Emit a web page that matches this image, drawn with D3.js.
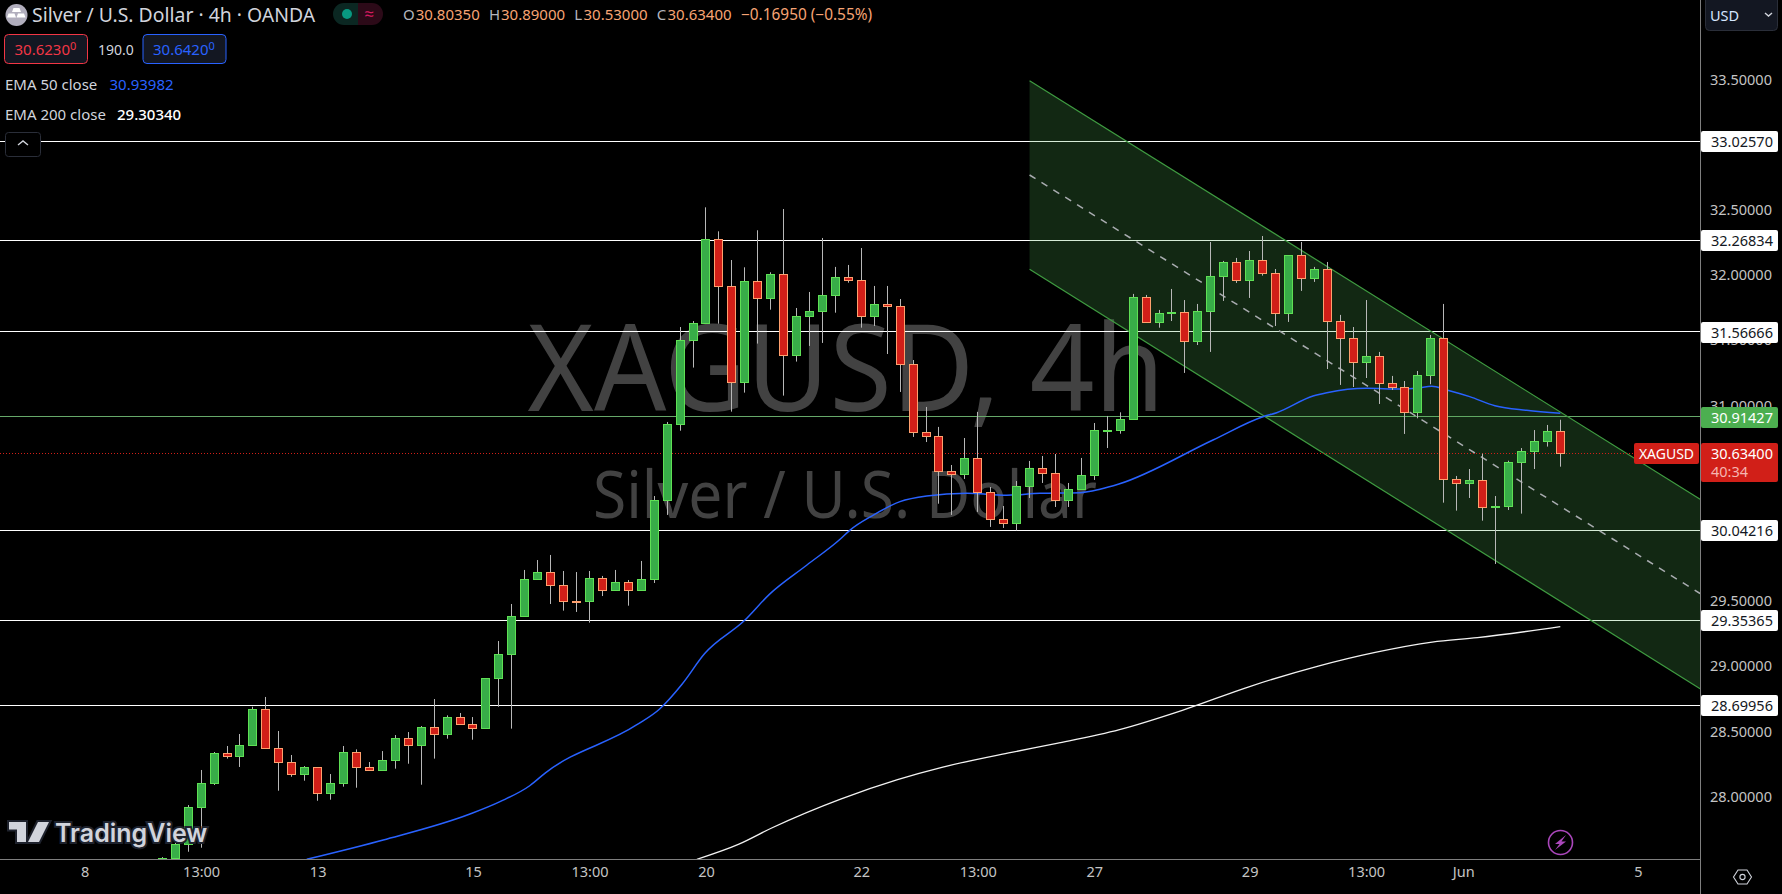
<!DOCTYPE html>
<html>
<head>
<meta charset="utf-8">
<title>XAGUSD 4h</title>
<script src="https://d3js.org/d3.v7.min.js"></script>
<style>
  html, body { margin: 0; padding: 0; background: #000; overflow: hidden; }
  text { font-family: "Noto Sans", "Open Sans", sans-serif; }
</style>
</head>
<body>
<div id="chart"></div>
<script>
// candles, one entry per 4h bar
const open = [27.35,27.525,27.634,27.915,28.099,28.331,28.306,28.39,28.669,28.37,28.262,28.168,28.224,28.022,28.099,28.339,28.224,28.198,28.275,28.446,28.39,28.531,28.475,28.608,28.554,28.521,28.904,29.088,29.38,29.664,29.72,29.62,29.497,29.495,29.674,29.579,29.643,29.579,29.664,30.269,30.852,31.497,31.627,32.274,31.913,31.175,31.952,31.819,32.005,31.382,31.681,31.719,31.842,31.982,31.959,31.681,31.775,31.76,31.315,30.794,30.763,30.494,30.469,30.594,30.333,30.126,30.093,30.377,30.517,30.479,30.269,30.354,30.461,30.8,30.811,30.891,31.829,31.635,31.698,31.714,31.489,31.719,31.988,32.097,31.957,32.113,32.013,31.704,32.151,31.972,32.044,31.645,31.515,31.328,31.376,31.169,31.139,30.944,31.228,31.514,30.433,30.4,30.425,30.214,30.223,30.561,30.645,30.722,30.8035];
const high = [27.536,27.645,27.935,28.204,28.342,28.388,28.48,28.689,28.764,28.503,28.319,28.234,28.224,28.173,28.388,28.362,28.265,28.349,28.472,28.495,28.541,28.748,28.623,28.641,28.61,28.907,29.193,29.477,29.738,29.814,29.853,29.73,29.722,29.73,29.692,29.738,29.661,29.807,30.305,30.873,31.601,31.647,32.519,32.335,32.115,32.059,32.343,32.021,32.506,31.747,31.87,32.284,32.062,32.077,32.207,31.916,31.916,31.816,31.348,30.988,30.835,30.543,30.75,30.95,30.374,30.229,30.42,30.574,30.612,30.627,30.405,30.597,30.865,30.919,30.947,31.855,31.847,31.732,31.893,31.808,31.778,32.253,32.108,32.131,32.184,32.299,32.046,32.151,32.253,32.062,32.1,31.694,31.601,31.808,31.41,31.226,31.187,31.264,31.54,31.778,30.459,30.512,30.63,30.305,30.576,30.673,30.811,30.85,30.89];
const low = [27.3,27.5,27.577,27.608,28.089,28.291,28.227,28.39,28.367,28.045,28.152,28.122,27.968,27.976,28.076,28.068,28.198,28.198,28.214,28.252,28.091,28.291,28.444,28.551,28.436,28.521,28.689,28.521,29.38,29.664,29.477,29.426,29.416,29.334,29.538,29.579,29.464,29.579,29.638,30.16,30.806,31.29,31.627,31.627,30.952,31.098,31.474,31.734,31.075,31.336,31.456,31.479,31.711,31.941,31.596,31.609,31.394,31.103,30.758,30.719,30.246,30.16,30.436,30.183,30.068,30.06,30.042,30.29,30.405,30.221,30.221,30.354,30.428,30.673,30.783,30.891,31.635,31.596,31.647,31.249,31.463,31.41,31.801,31.939,31.824,31.995,31.609,31.64,31.878,31.947,31.279,31.157,31.141,31.21,31.011,31.118,30.781,30.901,31.162,30.254,30.193,30.29,30.116,29.784,30.198,30.17,30.512,30.684,30.53];
const close = [27.526,27.634,27.917,28.101,28.331,28.306,28.393,28.669,28.367,28.26,28.168,28.224,28.022,28.101,28.339,28.222,28.198,28.278,28.446,28.39,28.531,28.475,28.608,28.551,28.521,28.907,29.091,29.382,29.666,29.72,29.618,29.495,29.49,29.674,29.579,29.643,29.579,29.666,30.272,30.855,31.499,31.63,32.274,31.911,31.175,31.952,31.819,32.005,31.382,31.683,31.722,31.844,31.982,31.957,31.681,31.775,31.757,31.313,30.794,30.76,30.492,30.469,30.594,30.331,30.126,30.093,30.379,30.517,30.477,30.269,30.356,30.464,30.809,30.811,30.893,31.829,31.635,31.706,31.709,31.489,31.722,31.99,32.097,31.957,32.113,32.011,31.704,32.151,31.972,32.044,31.642,31.512,31.328,31.376,31.167,31.136,30.944,31.231,31.514,30.43,30.4,30.425,30.216,30.223,30.563,30.648,30.725,30.801,30.634];

const ema50Bars = [11.16,17.07,23.77,26.09,28.41,29.6,36.63,38.4,40.15,41.9,44.97,46.9,49.8,52.36,53.13,54.93,56.99,59.05,62.14,65.23,67.81,70.9,72.44,73.9,81.17,85.03,86.09,88.9,89.96,93.05,95.62,96.91,98.07,99.23,101,102.95,105.4,108];
const ema50Values = [27.519,27.667,27.866,27.961,28.085,28.182,28.549,28.67,28.862,29.097,29.35,29.551,29.776,29.973,30.044,30.159,30.262,30.305,30.326,30.311,30.326,30.331,30.357,30.397,30.735,30.913,30.944,31.072,31.097,31.131,31.126,31.131,31.147,31.118,31.067,30.998,30.963,30.94];
const ema200Bars = [41.3,44.5,47.16,52.4,56.8,60.3,65.6,69.1,73.95,78.8,84,89.3,93.7,98.1,101.6,108];
const ema200Values = [27.519,27.633,27.763,27.981,28.13,28.226,28.339,28.408,28.514,28.662,28.844,29.001,29.106,29.185,29.219,29.303];

// horizontal levels
const levels = [33.0257,32.26834,31.56666,30.04216,29.35365,28.69956];
const emaLevel = 30.91427;
const lastPrice = 30.634;

// channel, from bar 67 to the right edge of the plot
const channelBars = [67,118.8];
const channelUpper = [33.49,30.28];
const channelMiddle = [32.767,29.557];
const channelLower = [32.044,28.827];

// axes
const priceTicks = [28,28.5,29,29.5,30,30.5,31,31.5,32,32.5,33,33.5];
const timeTickBars = [-6,3,12,24,33,42,54,63,72,84,93,100.5,114];
const timeTickLabels = ["8","13:00","13","15","13:00","20","22","13:00","27","29","13:00","Jun","5"];

const width = 1782;
const height = 894;
const plotW = 1700;
const plotH = 859;

const svg = d3.select("#chart").append("svg")
  .attr("width", width)
  .attr("height", height)
  .style("display", "block")
  .style("background", "#000");

const x = d3.scaleLinear().domain([0, 108]).range([162.3, 1560.3]);
const y = d3.scaleLinear().domain([34.109, 27.519]).range([0, 859.3]);
const px = (v) => Math.floor(v) + 0.5; // keeps 1px lines sharp

svg.append("clipPath").attr("id", "plot")
  .append("rect").attr("width", plotW).attr("height", plotH);

const plot = svg.append("g").attr("clip-path", "url(#plot)");

// watermark
plot.append("text")
  .attr("x", 846).attr("y", 411)
  .attr("text-anchor", "middle")
  .attr("textLength", 637)
  .attr("lengthAdjust", "spacingAndGlyphs")
  .attr("fill", "#424242")
  .style("font-size", "120px")
  .text("XAGUSD, 4h");
plot.append("text")
  .attr("x", 845).attr("y", 518)
  .attr("text-anchor", "middle")
  .attr("textLength", 504)
  .attr("lengthAdjust", "spacingAndGlyphs")
  .attr("fill", "#424242")
  .style("font-size", "65px")
  .text("Silver / U.S. Dollar");

// levels
plot.selectAll(".level")
  .data(levels)
  .enter().append("line")
  .attr("class", "level")
  .attr("x1", 0).attr("x2", plotW)
  .attr("y1", (d) => px(y(d))).attr("y2", (d) => px(y(d)))
  .attr("stroke", "#fff")
  .attr("stroke-width", 1.2);
plot.append("line")
  .attr("x1", 0).attr("x2", plotW)
  .attr("y1", px(y(emaLevel))).attr("y2", px(y(emaLevel)))
  .attr("stroke", "#66a869");

// channel
const channelArea = d3.area()
  .x((d, i) => x(channelBars[i]))
  .y0((d, i) => y(channelLower[i]))
  .y1((d) => y(d));
plot.append("path")
  .attr("d", channelArea(channelUpper))
  .attr("fill", "rgba(76,175,80,0.23)");

const channelLine = d3.line().x((d, i) => x(channelBars[i])).y((d) => y(d));
[channelUpper, channelLower].forEach((s) => {
  plot.append("path")
    .attr("d", channelLine(s))
    .attr("fill", "none")
    .attr("stroke", "#3f9c41")
    .attr("stroke-width", 1.2);
});
plot.append("path")
  .attr("d", channelLine(channelMiddle))
  .attr("fill", "none")
  .attr("stroke", "#a9acb0")
  .attr("stroke-width", 1.5)
  .attr("stroke-dasharray", "7 7");

// last price
plot.append("line")
  .attr("x1", 0).attr("x2", plotW)
  .attr("y1", px(y(lastPrice))).attr("y2", px(y(lastPrice)))
  .attr("stroke", "#d11f18")
  .attr("stroke-dasharray", "1 2");

// averages
const emaLine = (bars) => d3.line().curve(d3.curveMonotoneX).x((d, i) => x(bars[i])).y((d) => y(d));
plot.append("path")
  .attr("d", emaLine(ema200Bars)(ema200Values))
  .attr("fill", "none")
  .attr("stroke", "#f2f2f2")
  .attr("stroke-width", 1.3);
plot.append("path")
  .attr("d", emaLine(ema50Bars)(ema50Values))
  .attr("fill", "none")
  .attr("stroke", "#2962ff")
  .attr("stroke-width", 1.5);

// candles
const candles = plot.selectAll(".candle")
  .data(d3.range(open.length))
  .enter().append("g")
  .attr("class", "candle");

candles.append("line")
  .attr("x1", (i) => px(x(i))).attr("x2", (i) => px(x(i)))
  .attr("y1", (i) => y(high[i])).attr("y2", (i) => y(low[i]))
  .attr("stroke", "#b8b8b8");

candles.append("rect")
  .attr("x", (i) => px(x(i)) - 4)
  .attr("width", 8)
  .attr("y", (i) => px(y(Math.max(open[i], close[i]))))
  .attr("height", (i) => Math.max(1, Math.round(Math.abs(y(open[i]) - y(close[i])))))
  .attr("fill", (i) => (close[i] >= open[i] ? "#38ad48" : "#d11f18"))
  .attr("stroke", (i) => (close[i] >= open[i] ? "#5fe055" : "#ffa06e"));

// axes
const priceAxis = d3.axisRight(y)
  .tickValues(priceTicks)
  .tickSize(0)
  .tickPadding(0)
  .tickFormat(d3.format(".5f"));
svg.append("g")
  .attr("transform", "translate(1710,0)")
  .call(priceAxis)
  .call((g) => g.select(".domain").remove())
  .selectAll("text")
  .attr("fill", "#c4c4c4")
  .style("font-family", '"Noto Sans"')
  .style("font-size", "14.5px");

const timeScale = d3.scaleLinear().domain(x.domain()).range(x.range());
const timeAxis = d3.axisBottom(timeScale)
  .tickValues(timeTickBars)
  .tickSize(0)
  .tickPadding(0)
  .tickFormat((d, i) => timeTickLabels[i]);
svg.append("g")
  .attr("transform", "translate(0,867)")
  .call(timeAxis)
  .call((g) => g.select(".domain").remove())
  .selectAll("text")
  .attr("fill", "#c4c4c4")
  .style("font-family", '"Noto Sans"')
  .style("font-size", "14.5px");

svg.append("line")
  .attr("x1", 1700.5).attr("x2", 1700.5)
  .attr("y1", 0).attr("y2", height)
  .attr("stroke", "#7f7f7f");
svg.append("line")
  .attr("x1", 0).attr("x2", 1700)
  .attr("y1", 859.5).attr("y2", 859.5)
  .attr("stroke", "#7f7f7f");

// price tags on the axis
const tag = svg.append("g");
tag.selectAll(".lvl")
  .data(levels)
  .enter().append("rect")
  .attr("x", 1701).attr("width", 77)
  .attr("y", (d) => Math.round(y(d)) - 10).attr("height", 21)
  .attr("rx", 2)
  .attr("fill", "#fff");
tag.selectAll(".lvltxt")
  .data(levels)
  .enter().append("text")
  .attr("x", 1711)
  .attr("y", (d) => Math.round(y(d)) + 5.5)
  .attr("fill", "#131722")
  .style("font-size", "14.5px")
  .text((d) => d3.format(".5f")(d));

tag.append("rect")
  .attr("x", 1701).attr("width", 77)
  .attr("y", Math.round(y(emaLevel)) - 10).attr("height", 21)
  .attr("rx", 2)
  .attr("fill", "#4caf50");
tag.append("text")
  .attr("x", 1711).attr("y", Math.round(y(emaLevel)) + 5.5)
  .attr("fill", "#fff")
  .style("font-size", "14.5px")
  .text(d3.format(".5f")(emaLevel));

tag.append("rect")
  .attr("x", 1701).attr("y", 443).attr("width", 77).attr("height", 39)
  .attr("rx", 2)
  .attr("fill", "#d11f18");
tag.append("text")
  .attr("x", 1711).attr("y", y(lastPrice) + 5.5)
  .attr("fill", "#fff")
  .style("font-size", "14.5px")
  .text(d3.format(".5f")(lastPrice));
tag.append("text")
  .attr("x", 1711).attr("y", 477)
  .attr("fill", "#f5b5b0")
  .style("font-size", "14.5px")
  .text("40:34");

tag.append("rect")
  .attr("x", 1634).attr("y", 443).attr("width", 65).attr("height", 21)
  .attr("rx", 2)
  .attr("fill", "#d11f18");
tag.append("text")
  .attr("x", 1666.5).attr("y", y(lastPrice) + 5.5)
  .attr("text-anchor", "middle")
  .attr("fill", "#fff")
  .style("font-size", "14px")
  .text("XAGUSD");

// header
const head = svg.append("g");
head.append("circle")
  .attr("cx", 16.5).attr("cy", 15).attr("r", 11)
  .attr("fill", "#b1aebd");
head.append("path")
  .attr("d", "M13.5 8h6l1.5 4h-9zM8.5 13.5h6l1.5 4H7zM18 13.5h6l1.5 4h-9z")
  .attr("fill", "#fff");
head.append("text")
  .attr("x", 32).attr("y", 21.5)
  .attr("fill", "#d1d4dc")
  .style("font-size", "19.4px")
  .text("Silver / U.S. Dollar · 4h · OANDA");

head.append("path")
  .attr("d", "M358 3h-14a11 11 0 0 0 0 22h14z")
  .attr("fill", "#0b2722");
head.append("path")
  .attr("d", "M358 3h14a11 11 0 0 1 0 22h-14z")
  .attr("fill", "#2c0a18");
head.append("circle")
  .attr("cx", 347).attr("cy", 14).attr("r", 5)
  .attr("fill", "#089981");
head.append("text")
  .attr("x", 369).attr("y", 20).attr("text-anchor", "middle")
  .attr("fill", "#d81b60")
  .style("font-size", "17px")
  .text("≈");

const ohlcLabels = [["O", 403, 415.7, "30.80350"], ["H", 489, 501, "30.89000"], ["L", 574.3, 583.5, "30.53000"], ["C", 656.7, 667.5, "30.63400"]];
ohlcLabels.forEach((d) => {
  head.append("text").attr("x", d[1]).attr("y", 20).attr("fill", "#b2b5be").style("font-size", "15px").text(d[0]);
  head.append("text").attr("x", d[2]).attr("y", 20).attr("fill", "#f7a474").style("font-size", "15px").text(d[3]);
});
head.append("text").attr("x", 741).attr("y", 20).attr("fill", "#f7a474").style("font-size", "15.4px").text("−0.16950 (−0.55%)");

[[4, "#f23645", "30.6230"], [142.5, "#2962ff", "30.6420"]].forEach((d) => {
  head.append("rect")
    .attr("x", d[0] + 0.5).attr("y", 34.5).attr("width", 83).attr("height", 29).attr("rx", 4)
    .attr("fill", "#131722").attr("stroke", d[1]);
  head.append("text").attr("x", d[0] + 10.5).attr("y", 54.5).attr("fill", d[1]).style("font-size", "15px").text(d[2]);
  head.append("text").attr("x", d[0] + 66).attr("y", 50).attr("fill", d[1]).style("font-size", "11px").text("0");
});
head.append("text").attr("x", 98).attr("y", 54.5).attr("fill", "#d1d4dc").style("font-size", "14px").text("190.0");

head.append("text").attr("x", 5).attr("y", 90).attr("fill", "#d1d4dc").style("font-size", "15px").text("EMA 50 close");
head.append("text").attr("x", 109.5).attr("y", 90).attr("fill", "#2962ff").style("font-size", "15px").text("30.93982");
head.append("text").attr("x", 5).attr("y", 120).attr("fill", "#d1d4dc").style("font-size", "15px").text("EMA 200 close");
head.append("text").attr("x", 117).attr("y", 120).attr("fill", "#fff").style("font-size", "15px").style("font-weight", 500).text("29.30340");

head.append("rect")
  .attr("x", 5.5).attr("y", 132.5).attr("width", 35).attr("height", 24).attr("rx", 3)
  .attr("fill", "#000").attr("stroke", "#2a2e39");
head.append("path")
  .attr("d", "M18 145l5-4 5 4")
  .attr("fill", "none").attr("stroke", "#d1d4dc").attr("stroke-width", 1.4);

// currency box
head.append("rect")
  .attr("x", 1705.5).attr("y", -4).attr("width", 72).attr("height", 34.5).attr("rx", 4)
  .attr("fill", "#131722").attr("stroke", "#2a2e39");
head.append("text").attr("x", 1710).attr("y", 20.5).attr("fill", "#d6e6ff").style("font-size", "14.5px").text("USD");
head.append("path")
  .attr("d", "M1765 13l3.5 3 3.5-3")
  .attr("fill", "none").attr("stroke", "#d1d4dc").attr("stroke-width", 1.4);

// logo
const logo = svg.append("g");
const logoPath = "M9 32h17v20h-9V39.5H9zM39 36a4.5 4.5 0 1 1-.1 0zM38 32h11L39 52H28z";
logo.append("path").attr("d", logoPath).attr("transform", "translate(0,790)")
  .attr("fill", "#d1d4dc").attr("stroke", "#1e222d").attr("stroke-width", 4).style("paint-order", "stroke");
logo.append("text")
  .attr("x", 55).attr("y", 842)
  .attr("fill", "#d1d4dc")
  .attr("stroke", "#1e222d").attr("stroke-width", 4)
  .style("paint-order", "stroke")
  .style("font-family", "Inter")
  .style("font-size", "25px")
  .style("font-weight", 600)
  .text("TradingView");

// lightning button
svg.append("circle")
  .attr("cx", 1560.5).attr("cy", 842.5).attr("r", 12)
  .attr("fill", "none").attr("stroke", "#ab47bc").attr("stroke-width", 1.6);
svg.append("path")
  .attr("d", "M1566 835l-11 9h4.5l-4.5 6 11-8.5h-4.5z")
  .attr("fill", "#ab47bc");

// settings hexagon
const hexagon = d3.range(6).map((k) => {
  const a = Math.PI / 3 * k;
  return [1742.5 + 9 * Math.cos(a), 877 + 8 * Math.sin(a)];
});
svg.append("path")
  .attr("d", d3.line().curve(d3.curveLinearClosed)(hexagon))
  .attr("fill", "none").attr("stroke", "#d1d4dc").attr("stroke-width", 1.1);
svg.append("circle")
  .attr("cx", 1742.5).attr("cy", 877).attr("r", 2.6)
  .attr("fill", "none").attr("stroke", "#d1d4dc").attr("stroke-width", 1.1);
</script>
</body>
</html>
